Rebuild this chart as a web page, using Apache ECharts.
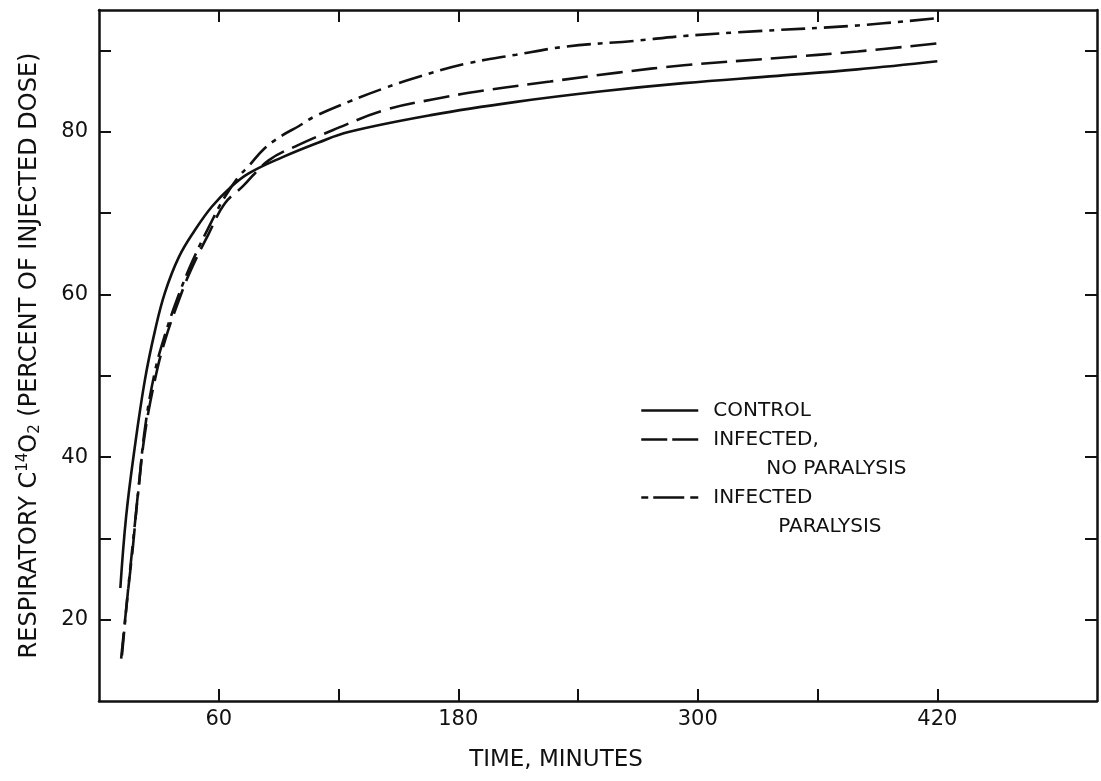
<!DOCTYPE html>
<html>
<head>
<meta charset="utf-8">
<script src="https://cdn.jsdelivr.net/npm/echarts@6/dist/echarts.min.js"></script>
<style>
  html, body { margin: 0; padding: 0; background: #fff; }
  #chart { width: 1101px; height: 781px; }
</style>
</head>
<body>
<div id="chart"></div>
<script>
// ---- data ----
const timeControl = [10.7, 13.6, 17.8, 23, 28, 33, 40, 48, 56.5, 66, 75, 92, 110, 125, 167, 209, 252, 293, 340, 380, 420];
const control     = [23.9, 32.7, 41.0, 49.5, 55.5, 60.2, 64.6, 67.9, 70.8, 73.2, 74.9, 76.9, 78.7, 80.0, 82.1, 83.7, 85.0, 86.0, 86.9, 87.7, 88.7];

const timeNoParalysis = [11.1, 14.4, 17, 19.5, 23, 28, 33, 40, 46, 55, 63, 72, 85, 100, 117, 142, 167, 193, 226, 260, 293, 340, 380, 420];
const noParalysis     = [15.2, 23.2, 29.0, 35.5, 42.9, 49.5, 54.3, 59.3, 63.0, 67.5, 71.2, 73.3, 76.5, 78.4, 80.2, 82.6, 84.0, 85.1, 86.2, 87.3, 88.2, 89.1, 89.9, 90.9];

const timeParalysis = [11.5, 14.5, 17, 20, 23, 28, 33, 40, 47, 55, 63, 70, 75, 83, 92, 100, 108, 125, 142, 159, 184, 209, 234, 268, 293, 330, 380, 420];
const paralysis     = [15.6, 23.5, 29.5, 36.5, 43.5, 50.5, 55.0, 60.0, 64.2, 68.3, 72.0, 74.5, 75.8, 78.0, 79.6, 80.7, 81.9, 83.7, 85.3, 86.7, 88.4, 89.5, 90.5, 91.2, 91.8, 92.4, 93.1, 94.0];

const xTicks = [60, 120, 180, 240, 300, 360, 420];
const xLabels = [60, 180, 300, 420];
const yTicks = [20, 30, 40, 50, 60, 70, 80, 90];
const yLabels = [20, 40, 60, 80];

const seriesNames = ['CONTROL', 'INFECTED, NO PARALYSIS', 'INFECTED PARALYSIS'];
const legendText = {
  'CONTROL': '{t|CONTROL}',
  'INFECTED, NO PARALYSIS': '{t| }\n{t|INFECTED,}\n{i1|NO PARALYSIS}',
  'INFECTED PARALYSIS': '{t| }\n{t|INFECTED}\n{i2|PARALYSIS}'
};

const ink = '#111';
const font = 'DejaVu Sans';

function pairs(xs, ys) { return xs.map((x, i) => [x, ys[i]]); }

const chart = echarts.init(document.getElementById('chart'), null, { renderer: 'canvas' });

const axisCommon = {
  type: 'value',
  splitLine: { show: false },
  axisLine: { show: true, onZero: false, lineStyle: { color: ink, width: 2.5 } },
};
const tickStyle = { color: ink, width: 2 };

chart.setOption({
  backgroundColor: '#fff',
  animation: false,
  grid: { left: 99, right: 4, top: 10, bottom: 80, containLabel: false },
  xAxis: [
    Object.assign({}, axisCommon, {
      position: 'bottom', min: 0, max: 500,
      axisTick: { show: true, inside: true, length: 12, lineStyle: tickStyle, customValues: xTicks },
      axisLabel: { show: true, customValues: xLabels, color: ink, fontFamily: font, fontSize: 21, margin: 8 },
      name: 'TIME, MINUTES', nameLocation: 'middle', nameGap: 48,
      nameTextStyle: { color: ink, fontFamily: font, fontSize: 23, padding: [0, 0, 0, -84] }
    }),
    Object.assign({}, axisCommon, {
      position: 'top', min: 0, max: 500,
      axisTick: { show: true, inside: true, length: 12, lineStyle: tickStyle, customValues: xTicks },
      axisLabel: { show: false }
    })
  ],
  yAxis: [
    Object.assign({}, axisCommon, {
      position: 'left', min: 10, max: 95,
      axisTick: { show: true, inside: true, length: 12, lineStyle: tickStyle, customValues: yTicks },
      axisLabel: { show: true, customValues: yLabels, color: ink, fontFamily: font, fontSize: 21, margin: 11 },
      name: 'RESPIRATORY C{sup|14}O{sub|2} (PERCENT OF INJECTED DOSE)',
      nameLocation: 'middle', nameGap: 55, nameRotate: 90,
      nameTextStyle: {
        color: ink, fontFamily: font, fontSize: 24,
        rich: {
          sup: { fontSize: 15, fontFamily: font, color: ink, padding: [0, 0, 13, 0] },
          sub: { fontSize: 15, fontFamily: font, color: ink, padding: [11, 0, 0, 0] }
        }
      }
    }),
    Object.assign({}, axisCommon, {
      position: 'right', min: 10, max: 95,
      axisTick: { show: true, inside: true, length: 12, lineStyle: tickStyle, customValues: yTicks },
      axisLabel: { show: false }
    })
  ],
  legend: {
    show: true,
    orient: 'vertical',
    left: 640,
    top: 396,
    padding: 0,
    itemGap: -29,
    itemWidth: 57,
    itemHeight: 14,
    selectedMode: false,
    itemStyle: { opacity: 0 },
    data: [
      { name: seriesNames[0], lineStyle: { type: 'solid', width: 2.5, color: ink } },
      { name: seriesNames[1], lineStyle: { type: [26, 5], width: 2.5, color: ink } },
      { name: seriesNames[2], lineStyle: { type: [7, 5, 31, 6, 8, 40], width: 2.5, color: ink } }
    ],
    formatter: name => legendText[name],
    textStyle: {
      color: ink, fontFamily: font, fontSize: 20, lineHeight: 29, padding: [0, 0, 0, 10],
      rich: {
        t: { color: ink, fontFamily: font, fontSize: 20, lineHeight: 29 },
        i1: { color: ink, fontFamily: font, fontSize: 20, lineHeight: 29, padding: [0, 0, 0, 53] },
        i2: { color: ink, fontFamily: font, fontSize: 20, lineHeight: 29, padding: [0, 0, 0, 65] }
      }
    }
  },
  series: [
    {
      name: seriesNames[0], type: 'line', xAxisIndex: 0, yAxisIndex: 0,
      data: pairs(timeControl, control), showSymbol: false, symbol: 'none',
      smooth: 0.4,
      lineStyle: { color: ink, width: 2.6, type: 'solid' }, itemStyle: { color: ink }
    },
    {
      name: seriesNames[1], type: 'line', xAxisIndex: 0, yAxisIndex: 0,
      data: pairs(timeNoParalysis, noParalysis), showSymbol: false, symbol: 'none',
      smooth: 0.4,
      lineStyle: { color: ink, width: 2.6, type: [26, 9] }, itemStyle: { color: ink }
    },
    {
      name: seriesNames[2], type: 'line', xAxisIndex: 0, yAxisIndex: 0,
      data: pairs(timeParalysis, paralysis), showSymbol: false, symbol: 'none',
      smooth: 0.4,
      lineStyle: { color: ink, width: 2.6, type: [24, 7, 5, 7] }, itemStyle: { color: ink }
    }
  ]
});
</script>
</body>
</html>
